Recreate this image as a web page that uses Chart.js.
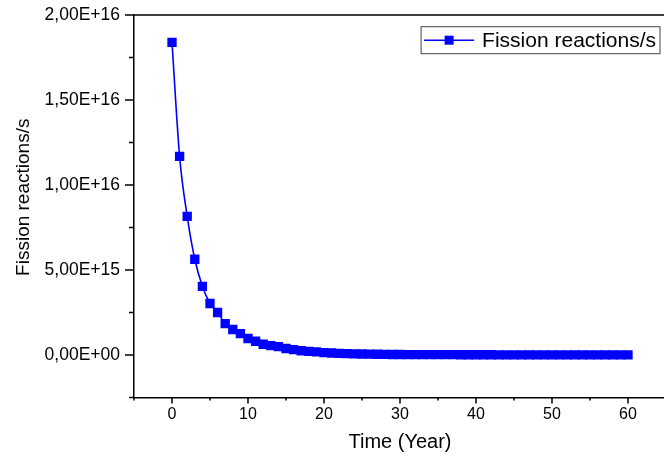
<!DOCTYPE html>
<html>
<head>
<meta charset="utf-8">
<script src="https://cdn.jsdelivr.net/npm/chart.js@4/dist/chart.umd.min.js"></script>
<style>
  html, body { margin: 0; padding: 0; background: #fff; overflow: hidden; }
  #wrap { width: 673px; height: 459px; position: relative; }
</style>
</head>
<body>
<div id="wrap"><canvas id="fissionChart"></canvas></div>
<script>
// data
const years = [0, 1, 2, 3, 4, 5, 6, 7, 8, 9, 10, 11, 12, 13, 14, 15, 16, 17, 18, 19, 20,
    21, 22, 23, 24, 25, 26, 27, 28, 29, 30, 31, 32, 33, 34, 35, 36, 37, 38, 39, 40,
    41, 42, 43, 44, 45, 46, 47, 48, 49, 50, 51, 52, 53, 54, 55, 56, 57, 58, 59, 60];
const fissionRate = [18.39e15, 11.68e15, 8.15e15, 5.63e15, 4.04e15, 3.03e15, 2.50e15, 1.85e15, 1.50e15, 1.26e15,
    0.97e15, 0.81e15, 0.63e15, 0.55e15, 0.49e15, 0.38e15, 0.32e15, 0.25e15, 0.21e15, 0.18e15,
    0.14e15, 0.12e15, 0.10e15, 0.08e15, 0.07e15, 0.06e15, 0.05e15, 0.045e15, 0.035e15, 0.03e15,
    0.028e15, 0.026e15, 0.024e15, 0.022e15, 0.021e15, 0.02e15, 0.019e15, 0.018e15, 0.017e15, 0.016e15,
    0.015e15, 0.014e15, 0.013e15, 0.012e15, 0.012e15, 0.011e15, 0.011e15, 0.010e15, 0.010e15, 0.009e15,
    0.009e15, 0.008e15, 0.008e15, 0.008e15, 0.007e15, 0.007e15, 0.007e15, 0.006e15, 0.006e15, 0.006e15, 0.005e15];
const seriesName = 'Fission reactions/s';
const xTitle = 'Time (Year)';
const yTitle = 'Fission reactions/s';
const xLabelled = [0, 10, 20, 30, 40, 50, 60];
const yLabelled = [0, 5e15, 10e15, 15e15, 20e15];

const FONT = '"Liberation Sans", Arial, Helvetica, sans-serif';

function sciComma(v) {
    if (v === 0) return '0,00E+00';
    const e = Math.floor(Math.log10(Math.abs(v)) + 1e-9);
    const m = v / Math.pow(10, e);
    return m.toFixed(2).replace('.', ',') + 'E' + (e < 0 ? '-' : '+') + String(Math.abs(e)).padStart(2, '0');
}
function isY(v) { return yLabelled.some(t => Math.abs(t - v) < 1e9); }
function isX(v) { return xLabelled.some(t => Math.abs(t - v) < 1e-6); }

// ticks, top frame line, y title and the boxed legend
const decor = {
    id: 'decor',
    afterDraw(chart) {
        const { ctx, chartArea: a, scales: { x, y } } = chart;
        ctx.save();
        ctx.strokeStyle = '#000';
        ctx.lineWidth = 1.5;
        ctx.beginPath();
        ctx.moveTo(a.left - 1, a.top);
        ctx.lineTo(a.right, a.top);
        y.ticks.forEach(t => {
            const py = y.getPixelForValue(t.value);
            const len = isY(t.value) ? 9 : 5;
            ctx.moveTo(a.left, py);
            ctx.lineTo(a.left - len, py);
        });
        x.ticks.forEach(t => {
            const px = x.getPixelForValue(t.value);
            const len = isX(t.value) ? 6 : 3;
            ctx.moveTo(px, a.bottom);
            ctx.lineTo(px, a.bottom + len);
        });
        ctx.stroke();

        // y axis title
        ctx.save();
        ctx.translate(24, (a.top + a.bottom) / 2 - 9);
        ctx.rotate(-Math.PI / 2);
        ctx.font = '19px ' + FONT;
        ctx.fillStyle = '#000';
        ctx.textAlign = 'center';
        ctx.textBaseline = 'middle';
        ctx.fillText(yTitle, 0, 0);
        ctx.restore();

        // legend
        const ds = chart.data.datasets[0];
        ctx.font = '21px ' + FONT;
        const tw = ctx.measureText(ds.label).width;
        const boxH = 27;
        const right = a.right - 6;
        const top = a.top + 11.7;
        const w = 3 + 50 + 8 + tw + 4;
        const left = right - w;
        const cy = top + boxH / 2;
        ctx.lineWidth = 1;
        ctx.strokeStyle = '#444';
        ctx.strokeRect(left, top, w, boxH);
        ctx.strokeStyle = ds.borderColor;
        ctx.lineWidth = 1.5;
        ctx.beginPath();
        ctx.moveTo(left + 3, cy);
        ctx.lineTo(left + 53, cy);
        ctx.stroke();
        ctx.fillStyle = ds.pointBackgroundColor;
        ctx.fillRect(left + 28 - 4.5, cy - 4.5, 9, 9);
        ctx.fillStyle = '#000';
        ctx.textBaseline = 'middle';
        ctx.textAlign = 'left';
        ctx.fillText(ds.label, left + 61, cy + 1);
        ctx.restore();
    }
};

new Chart(document.getElementById('fissionChart'), {
    type: 'line',
    data: {
        labels: years,
        datasets: [{
            label: seriesName,
            data: years.map((t, i) => ({ x: t, y: fissionRate[i] })),
            borderColor: '#0000ff',
            backgroundColor: '#0000ff',
            pointBackgroundColor: '#0000ff',
            borderWidth: 1.6,
            pointStyle: 'rect',
            pointRadius: 6.6,
            pointBorderWidth: 0,
            cubicInterpolationMode: 'monotone',
            fill: false
        }]
    },
    options: {
        responsive: true,
        maintainAspectRatio: false,
        animation: false,
        events: [],
        layout: { padding: { top: 15, right: 2, left: 0, bottom: 0 } },
        plugins: { legend: { display: false }, tooltip: { enabled: false } },
        scales: {
            x: {
                type: 'linear',
                min: -5,
                max: 65,
                afterFit(scale) { scale.height = 61.5; },
                ticks: {
                    stepSize: 5,
                    autoSkip: false,
                    maxRotation: 0,
                    padding: 7,
                    color: '#000',
                    font: { family: FONT, size: 16 },
                    callback: v => isX(v) ? String(v) : ''
                },
                grid: { drawOnChartArea: false, drawTicks: false },
                border: { display: true, color: '#000', width: 1.5 },
                title: {
                    display: true,
                    text: xTitle,
                    color: '#000',
                    font: { family: FONT, size: 20 },
                    padding: { top: 0, bottom: 5 }
                }
            },
            y: {
                min: -2.5e15,
                max: 20e15,
                afterFit(scale) {
                    scale.width = 134;
                    scale.paddingTop = 0;
                    scale.paddingBottom = 0;
                },
                ticks: {
                    stepSize: 2.5e15,
                    autoSkip: false,
                    padding: 14,
                    color: '#000',
                    font: { family: FONT, size: 17.5 },
                    callback: v => isY(v) ? sciComma(v) : ''
                },
                grid: { drawOnChartArea: false, drawTicks: false },
                border: { display: true, color: '#000', width: 1.5 },
                title: { display: false }
            }
        }
    },
    plugins: [decor]
});
</script>
</body>
</html>
